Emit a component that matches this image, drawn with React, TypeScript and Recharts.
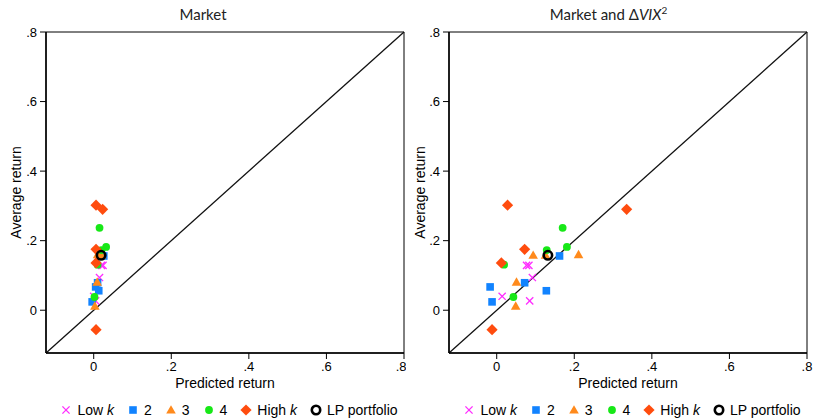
import React from "react";
import { ScatterChart, Scatter, XAxis, YAxis, ReferenceLine, ReferenceArea } from "recharts";

// average returns, shared by both panels
const AVG_LOW_K = [0.129, 0.129, 0.094, 0.04, 0.027];
const AVG_K2 = [0.067, 0.024, 0.079, 0.056, 0.156];
const AVG_K3 = [0.158, 0.081, 0.012, 0.16, 0.158];
const AVG_K4 = [0.237, 0.182, 0.173, 0.131, 0.038];
const AVG_HIGH_K = [0.302, 0.29, 0.175, 0.136, -0.056];
const AVG_LP = [0.158];

// predicted returns, market only
const MKT_LOW_K = [0.024, 0.02, 0.015, 0.0, 0.005];
const MKT_K2 = [0.005, -0.004, 0.01, 0.013, 0.026];
const MKT_K3 = [0.018, 0.009, 0.003, 0.01, 0.02];
const MKT_K4 = [0.015, 0.032, 0.02, 0.01, 0.002];
const MKT_HIGH_K = [0.006, 0.023, 0.006, 0.006, 0.006];
const MKT_LP = [0.019];

// predicted returns, market and dVIX^2
const VIX_LOW_K = [0.077, 0.083, 0.092, 0.014, 0.085];
const VIX_K2 = [-0.017, -0.012, 0.072, 0.128, 0.162];
const VIX_K3 = [0.094, 0.051, 0.049, 0.211, 0.126];
const VIX_K4 = [0.17, 0.181, 0.129, 0.019, 0.043];
const VIX_HIGH_K = [0.028, 0.335, 0.072, 0.012, -0.012];
const VIX_LP = [0.132];

const TICKS = [0, 0.2, 0.4, 0.6, 0.8];
const LO = -0.123;
const HI = 0.8;

const C_LOW = "#ff2bff";
const C_K2 = "#1283ff";
const C_K3 = "#ff8a1c";
const C_K4 = "#17e817";
const C_HIGH = "#ff4c0e";

const AXIS_FONT = "'Liberation Sans', Arial, sans-serif";
const TITLE_FONT = "Lato, 'Open Sans', sans-serif";

const zip = (xs: number[], ys: number[]) => xs.map((x, i) => ({ x, y: ys[i] }));
const fmt = (v: number) => (v === 0 ? "0" : String(v).replace(/^0/, ""));

type P = { cx?: number; cy?: number };

const CrossMark = ({ cx = 0, cy = 0 }: P) => {
  const r = 3.6;
  return (
    <g stroke={C_LOW} strokeWidth={1.3}>
      <line x1={cx - r} y1={cy - r} x2={cx + r} y2={cy + r} />
      <line x1={cx - r} y1={cy + r} x2={cx + r} y2={cy - r} />
    </g>
  );
};
const SquareMark = ({ cx = 0, cy = 0 }: P) => (
  <rect x={cx - 3.8} y={cy - 3.8} width={7.6} height={7.6} fill={C_K2} />
);
const TriangleMark = ({ cx = 0, cy = 0 }: P) => (
  <polygon points={`${cx},${cy - 4.8} ${cx - 4.8},${cy + 3.6} ${cx + 4.8},${cy + 3.6}`} fill={C_K3} />
);
const DotMark = ({ cx = 0, cy = 0 }: P) => <circle cx={cx} cy={cy} r={3.9} fill={C_K4} />;
const DiamondMark = ({ cx = 0, cy = 0 }: P) => (
  <polygon points={`${cx},${cy - 5.6} ${cx + 5.6},${cy} ${cx},${cy + 5.6} ${cx - 5.6},${cy}`} fill={C_HIGH} />
);
const RingMark = ({ cx = 0, cy = 0 }: P) => (
  <circle cx={cx} cy={cy} r={4.2} fill="none" stroke="#000" strokeWidth={2.6} />
);

const LEGEND = [
  { label: <>Low <i>k</i></>, Mark: CrossMark },
  { label: <>2</>, Mark: SquareMark },
  { label: <>3</>, Mark: TriangleMark },
  { label: <>4</>, Mark: DotMark },
  { label: <>High <i>k</i></>, Mark: DiamondMark },
  { label: <>LP portfolio</>, Mark: RingMark },
];

function YTitle({ viewBox }: any) {
  const cy = viewBox.y + viewBox.height / 2;
  return (
    <text x={16} y={cy} transform={`rotate(-90, 16, ${cy})`} textAnchor="middle" dominantBaseline="central"
      fontFamily={AXIS_FONT} fontSize={14} fill="#000">
      Average return
    </text>
  );
}

function XTitle({ viewBox }: any) {
  return (
    <text x={viewBox.x + viewBox.width / 2} y={383} textAnchor="middle" dominantBaseline="central"
      fontFamily={AXIS_FONT} fontSize={14} fill="#000">
      Predicted return
    </text>
  );
}

type PanelProps = {
  left: number;
  width: number;
  yAxisWidth: number;
  right: number;
  title: React.ReactNode;
  xs: number[][];
};

function Panel({ left, width, yAxisWidth, right, title, xs }: PanelProps) {
  const [xLow, x2, x3, x4, xHigh, xLp] = xs;
  const plotLeft = yAxisWidth;
  const plotWidth = width - yAxisWidth - right;
  return (
    <div style={{ position: "absolute", left, top: 0, width, height: 418 }}>
      <div style={{ position: "absolute", left: 0, top: 4, width, textAlign: "center", fontFamily: TITLE_FONT, fontSize: 15, lineHeight: "20px", color: "#222" }}>
        {title}
      </div>
      <ScatterChart width={width} height={418} margin={{ top: 32, right, bottom: 0, left: 0 }}>
        <XAxis type="number" dataKey="x" domain={[LO, HI]} ticks={TICKS} tickFormatter={fmt} allowDataOverflow
          height={65} tickSize={6} tickMargin={3} axisLine={{ stroke: "#000", strokeWidth: 1.5 }}
          tickLine={{ stroke: "#000", strokeWidth: 1 }} tick={{ fill: "#000", fontSize: 13, fontFamily: AXIS_FONT }}
          label={{ content: XTitle }} />
        <YAxis type="number" dataKey="y" domain={[LO, HI]} ticks={TICKS} tickFormatter={fmt} allowDataOverflow
          width={yAxisWidth} tickSize={6} tickMargin={3} axisLine={{ stroke: "#000", strokeWidth: 1.5 }}
          tickLine={{ stroke: "#000", strokeWidth: 1 }} tick={{ fill: "#000", fontSize: 13, fontFamily: AXIS_FONT }}
          label={{ content: YTitle }} />
        <ReferenceArea x1={LO} x2={HI} y1={LO} y2={HI} fill="none" fillOpacity={0} stroke="#000" strokeWidth={1} />
        <ReferenceLine segment={[{ x: LO, y: LO }, { x: HI, y: HI }]} stroke="#111" strokeWidth={1.3} />
        <Scatter name="Low k" data={zip(xLow, AVG_LOW_K)} shape={(p: any) => <CrossMark cx={p.cx} cy={p.cy} />} isAnimationActive={false} />
        <Scatter name="2" data={zip(x2, AVG_K2)} shape={(p: any) => <SquareMark cx={p.cx} cy={p.cy} />} isAnimationActive={false} />
        <Scatter name="3" data={zip(x3, AVG_K3)} shape={(p: any) => <TriangleMark cx={p.cx} cy={p.cy} />} isAnimationActive={false} />
        <Scatter name="4" data={zip(x4, AVG_K4)} shape={(p: any) => <DotMark cx={p.cx} cy={p.cy} />} isAnimationActive={false} />
        <Scatter name="High k" data={zip(xHigh, AVG_HIGH_K)} shape={(p: any) => <DiamondMark cx={p.cx} cy={p.cy} />} isAnimationActive={false} />
        <Scatter name="LP portfolio" data={zip(xLp, AVG_LP)} shape={(p: any) => <RingMark cx={p.cx} cy={p.cy} />} isAnimationActive={false} />
      </ScatterChart>
      <div style={{ position: "absolute", left: plotLeft + 4, top: 402, width: plotWidth, display: "flex", justifyContent: "center", alignItems: "center", fontFamily: AXIS_FONT, fontSize: 14, color: "#000", whiteSpace: "nowrap" }}>
        {LEGEND.map(({ label, Mark }, i) => (
          <span key={i} style={{ display: "inline-flex", alignItems: "center", marginRight: i < LEGEND.length - 1 ? 13 : 0 }}>
            <svg width={12} height={12} style={{ marginRight: 5 }}>
              <Mark cx={6} cy={6} />
            </svg>
            <span>{label}</span>
          </span>
        ))}
      </div>
    </div>
  );
}

export default function App() {
  return (
    <div style={{ position: "absolute", left: 0, top: 0, width: 813, height: 418, background: "#fff", overflow: "hidden" }}>
      <Panel left={0} width={406} yAxisWidth={46} right={2} title="Market"
        xs={[MKT_LOW_K, MKT_K2, MKT_K3, MKT_K4, MKT_HIGH_K, MKT_LP]} />
      <Panel left={404} width={409} yAxisWidth={45} right={6}
        title={<>Market and Δ<i>VIX</i><sup style={{ fontSize: 10, verticalAlign: "6px", lineHeight: 0 }}>2</sup></>}
        xs={[VIX_LOW_K, VIX_K2, VIX_K3, VIX_K4, VIX_HIGH_K, VIX_LP]} />
    </div>
  );
}
